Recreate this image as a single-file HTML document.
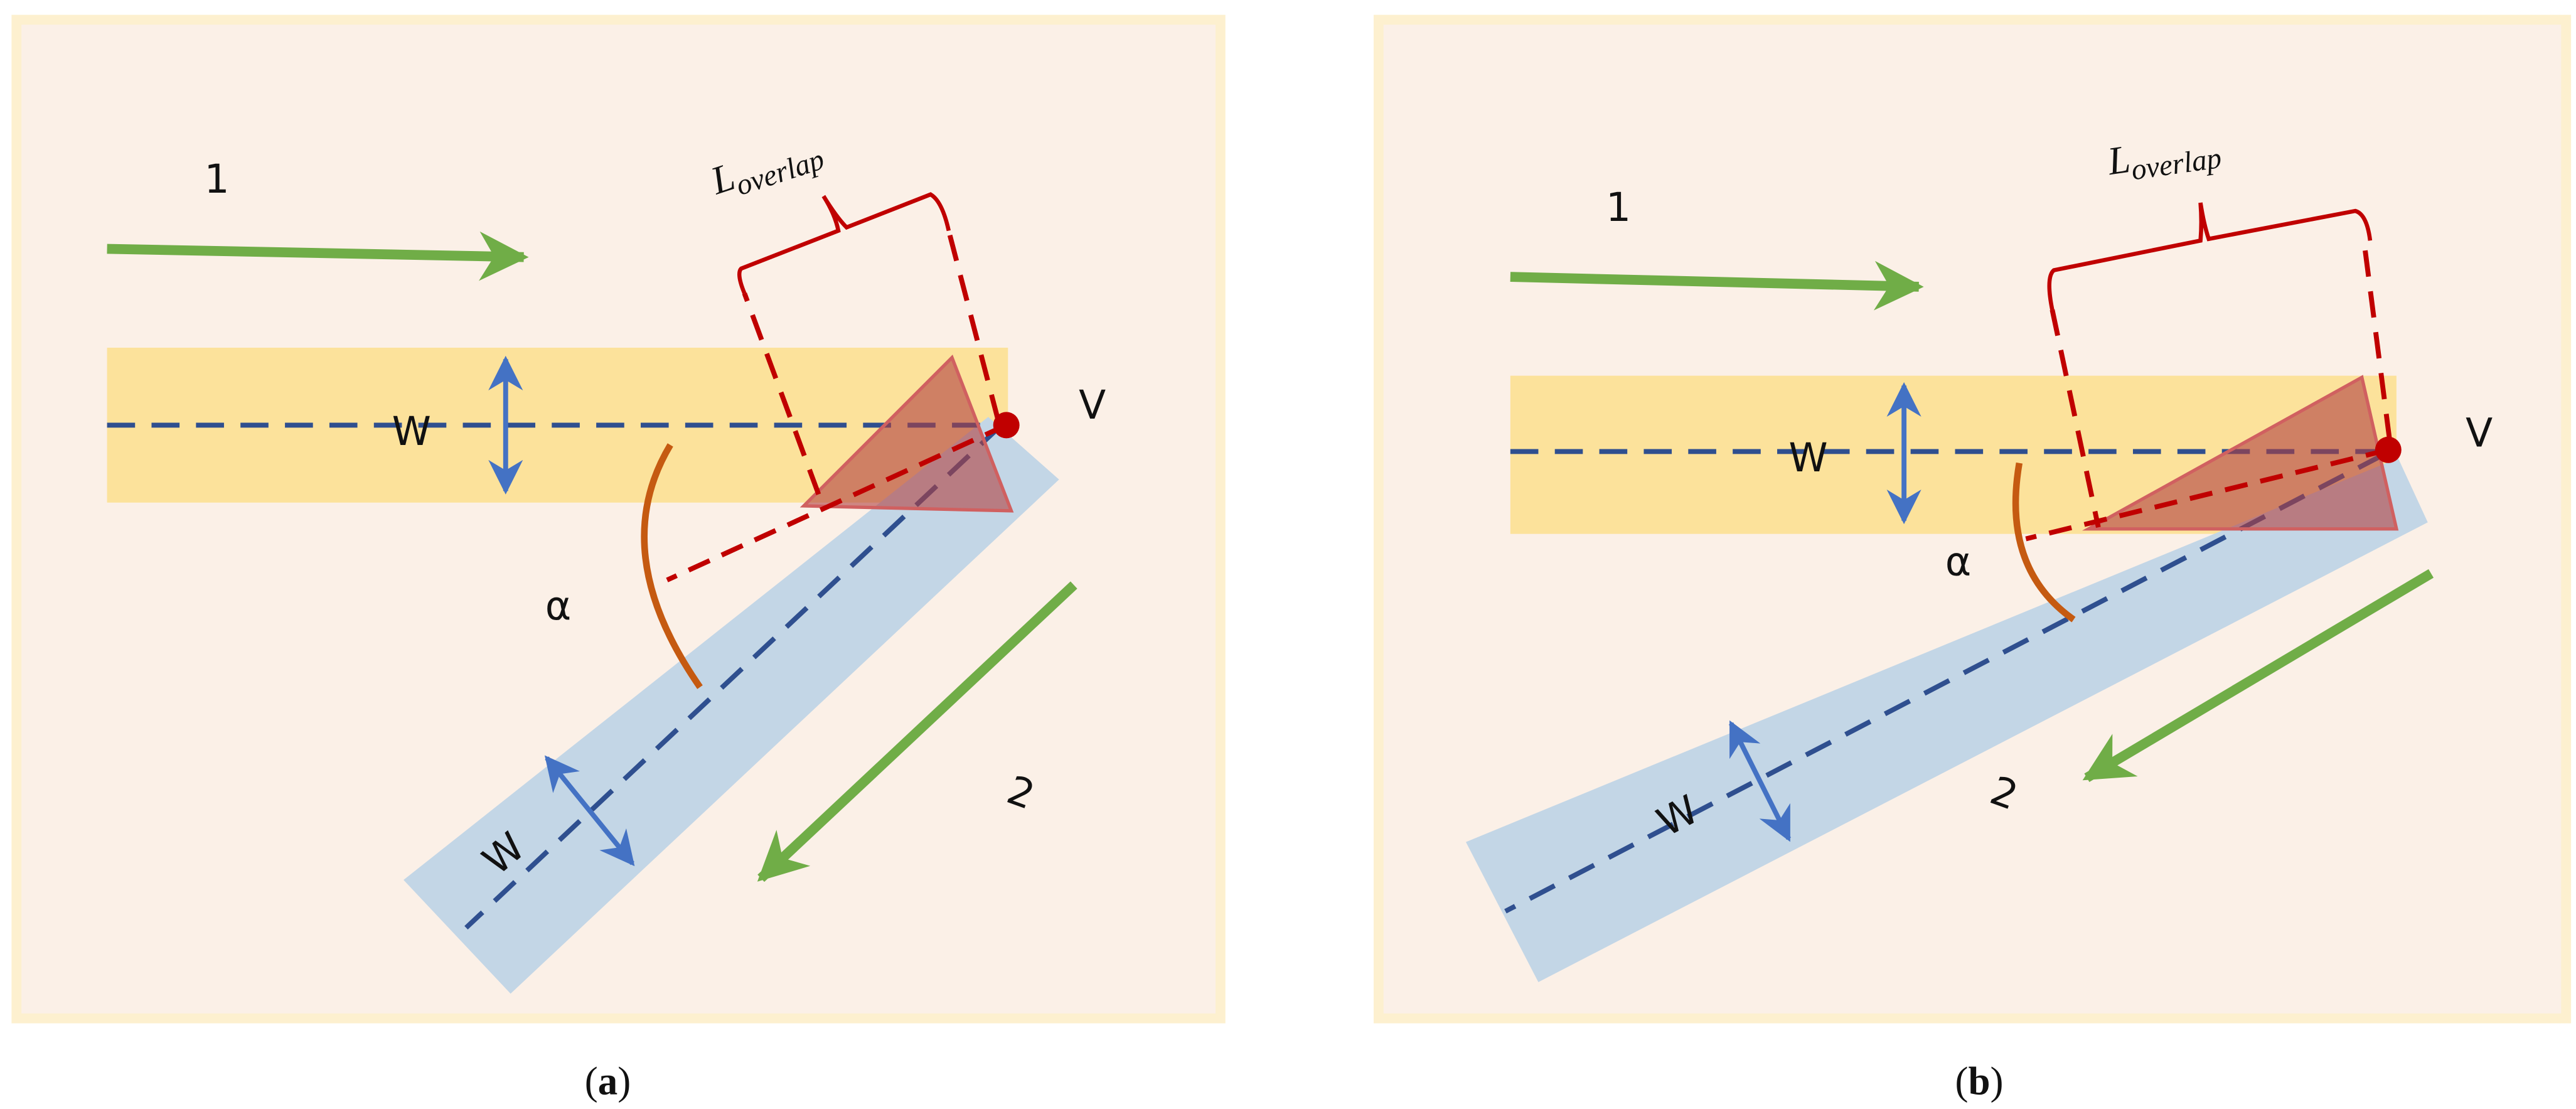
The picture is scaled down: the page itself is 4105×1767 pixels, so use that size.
<!DOCTYPE html>
<html><head><meta charset="utf-8"><style>
html,body{margin:0;padding:0;background:#fff;}
svg{display:block;}
.t{font-family:"DejaVu Sans","Liberation Sans",sans-serif;font-size:24px;fill:#111;}
.s{font-family:"Liberation Serif",serif;font-size:24px;fill:#111;}
</style></head><body>
<svg width="4105" height="1767" viewBox="0 0 1564 673" preserveAspectRatio="none" xmlns="http://www.w3.org/2000/svg">
<defs>
<marker id="ga" viewBox="0 0 10 10" refX="9" refY="5" markerWidth="5" markerHeight="5" orient="auto" markerUnits="strokeWidth"><path d="M0,0 L10,5 L0,10 L3,5 Z" fill="#70ad47"/></marker>
<marker id="ba" viewBox="0 0 10 10" refX="9" refY="5" markerWidth="7" markerHeight="7" orient="auto-start-reverse" markerUnits="strokeWidth"><path d="M0,0 L10,5 L0,10 L3,5 Z" fill="#4472c4"/></marker>
</defs>
<rect width="1564" height="673" fill="#fff"/>
<!-- Panel A -->
<rect x="10" y="12" width="731" height="606" fill="#fbf0e7" stroke="#fdf0cf" stroke-width="6"/>
<rect x="65" y="211" width="547" height="94" fill="#fce29b"/>
<polygon points="245,534 310,603 643,291 600,253" fill="#c3d6e6"/>
<line x1="65" y1="258" x2="608" y2="258" stroke="#2f4f8f" stroke-width="3" stroke-dasharray="17,10"/>
<line x1="608" y1="258" x2="283" y2="563" stroke="#2f4f8f" stroke-width="3" stroke-dasharray="17,10"/>
<polygon points="488,307 578,217 614,310" fill="#b04040" fill-opacity="0.6" stroke="#d06060" stroke-width="2"/>
<line x1="611" y1="258" x2="405" y2="352" stroke="#c00000" stroke-width="3" stroke-dasharray="14,8"/>
<line x1="497" y1="300" x2="452" y2="178" stroke="#c00000" stroke-width="3" stroke-dasharray="16,9"/>
<line x1="606" y1="255" x2="576" y2="140" stroke="#c00000" stroke-width="3" stroke-dasharray="16,9"/>
<path d="M452,178 Q447,166 450,163 L509,140 Q507,130 500,119 Q508,132 514,138 L565,118 Q572,122 576,140" fill="none" stroke="#c00000" stroke-width="2.5"/>
<circle cx="611" cy="258" r="8" fill="#c00000"/>
<path d="M407,270 Q368,335 425,417" fill="none" stroke="#c55a11" stroke-width="4"/>
<line x1="65" y1="151" x2="318" y2="156" stroke="#70ad47" stroke-width="6" marker-end="url(#ga)"/>
<line x1="652" y1="355" x2="462" y2="533" stroke="#70ad47" stroke-width="6" marker-end="url(#ga)"/>
<line x1="307" y1="218" x2="307" y2="298" stroke="#4472c4" stroke-width="3" marker-start="url(#ba)" marker-end="url(#ba)"/>
<line x1="332" y1="460" x2="384" y2="524" stroke="#4472c4" stroke-width="3" marker-start="url(#ba)" marker-end="url(#ba)"/>
<text class="t" x="238" y="270">W</text>
<text class="t" x="0" y="0" transform="translate(302,532) rotate(-40)">W</text>
<text class="t" x="124" y="117">1</text>
<text class="t" x="612" y="490" transform="rotate(20 622 482)">2</text>
<text class="t" x="655" y="254">V</text>
<text class="t" x="331" y="376">α</text>
<text class="s" font-style="italic" x="0" y="0" transform="translate(435,118) rotate(-18)">L<tspan font-size="18" dy="5">overlap</tspan></text>
<text class="s" x="355" y="664">(<tspan font-weight="bold">a</tspan>)</text>
<!-- Panel B -->
<rect x="837" y="12" width="721" height="606" fill="#fbf0e7" stroke="#fdf0cf" stroke-width="6"/>
<rect x="917" y="228" width="538" height="96" fill="#fce29b"/>
<polygon points="890,511 934,596 1474,317 1456,278" fill="#c3d6e6"/>
<line x1="917" y1="274" x2="1447" y2="274" stroke="#2f4f8f" stroke-width="3" stroke-dasharray="17,10"/>
<line x1="1447" y1="276" x2="914" y2="553" stroke="#2f4f8f" stroke-width="3" stroke-dasharray="17,10"/>
<polygon points="1268,321 1434,229 1455,321" fill="#b04040" fill-opacity="0.6" stroke="#d06060" stroke-width="2"/>
<line x1="1450" y1="273" x2="1230" y2="327" stroke="#c00000" stroke-width="3" stroke-dasharray="14,8"/>
<line x1="1246" y1="188" x2="1274" y2="320" stroke="#c00000" stroke-width="3" stroke-dasharray="16,9"/>
<line x1="1436" y1="152" x2="1452" y2="276" stroke="#c00000" stroke-width="3" stroke-dasharray="16,9"/>
<path d="M1246,188 Q1242,168 1247,164 L1336,146 Q1337,135 1336,123 Q1338,136 1341,145 L1430,128 Q1437,130 1439,146" fill="none" stroke="#c00000" stroke-width="2.5"/>
<circle cx="1450" cy="273" r="8" fill="#c00000"/>
<path d="M1226,281 Q1215,345 1259,376" fill="none" stroke="#c55a11" stroke-width="4"/>
<line x1="917" y1="168" x2="1165" y2="174" stroke="#70ad47" stroke-width="6" marker-end="url(#ga)"/>
<line x1="1476" y1="348" x2="1267" y2="472" stroke="#70ad47" stroke-width="6" marker-end="url(#ga)"/>
<line x1="1156" y1="234" x2="1156" y2="316" stroke="#4472c4" stroke-width="3" marker-start="url(#ba)" marker-end="url(#ba)"/>
<line x1="1051" y1="439" x2="1086" y2="509" stroke="#4472c4" stroke-width="3" marker-start="url(#ba)" marker-end="url(#ba)"/>
<text class="t" x="1086" y="286">W</text>
<text class="t" x="0" y="0" transform="translate(1012,508) rotate(-28)">W</text>
<text class="t" x="975" y="134">1</text>
<text class="t" x="1209" y="490" transform="rotate(20 1218 482)">2</text>
<text class="t" x="1497" y="271">V</text>
<text class="t" x="1181" y="349">α</text>
<text class="s" font-style="italic" x="0" y="0" transform="translate(1281,106) rotate(-8)">L<tspan font-size="18" dy="5">overlap</tspan></text>
<text class="s" x="1187" y="664">(<tspan font-weight="bold">b</tspan>)</text>
</svg>
</body></html>
